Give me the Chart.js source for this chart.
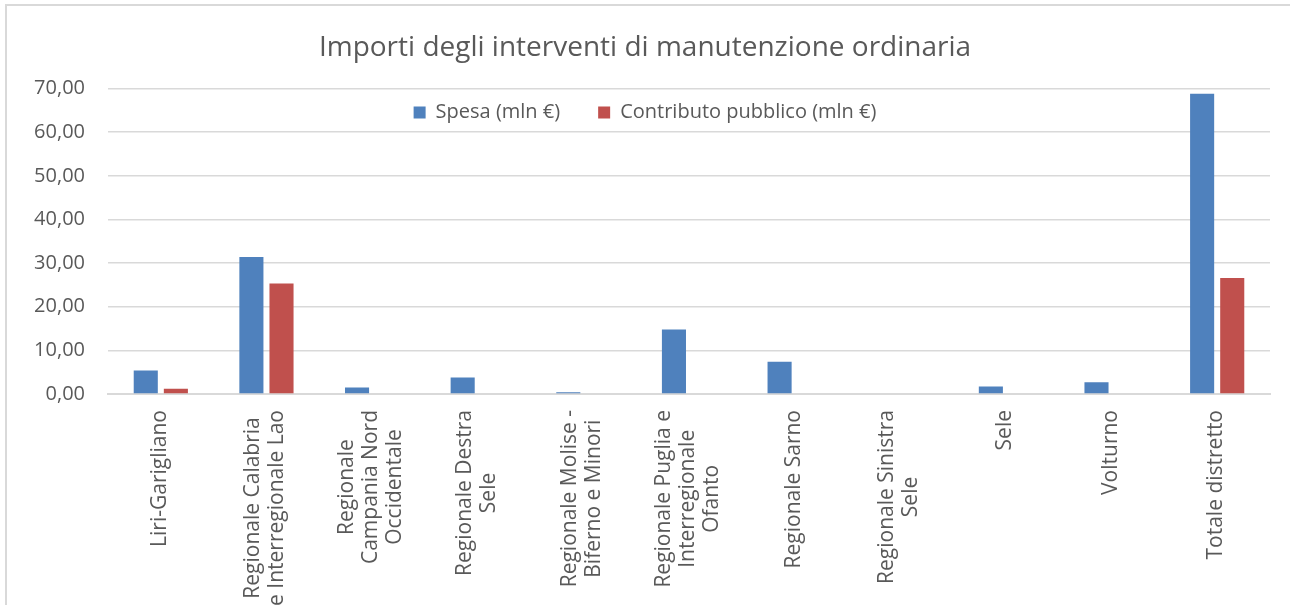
<!DOCTYPE html>
<html>
<head>
<meta charset="utf-8">
<script src="https://cdn.jsdelivr.net/npm/chart.js@4.4.0/dist/chart.umd.min.js"></script>
<style>
  html, body { margin: 0; padding: 0; background: #fff; overflow: hidden; }
  #frame { position: absolute; left: 5px; top: 4px; width: 1400px; height: 700px; border: 2px solid #d9d9d9; }
  #wrap { position: absolute; left: 0; top: 0; width: 1290px; height: 605px; }
</style>
</head>
<body>
<div id="frame"></div>
<div id="wrap"><canvas id="myChart"></canvas></div>
<script>
const categories = [
  'Liri-Garigliano',
  ['Regionale Calabria', 'e Interregionale Lao'],
  ['Regionale', 'Campania Nord', 'Occidentale'],
  ['Regionale Destra', 'Sele'],
  ['Regionale Molise -', 'Biferno e Minori'],
  ['Regionale Puglia e', 'Interregionale', 'Ofanto'],
  'Regionale Sarno',
  ['Regionale Sinistra', 'Sele'],
  'Sele',
  'Volturno',
  'Totale distretto'
];
const spesa = [5.4, 31.4, 1.5, 3.8, 0.4, 14.8, 7.4, 0.2, 1.7, 2.7, 68.8];
const contributo = [1.2, 25.3, 0, 0, 0, 0, 0, 0, 0, 0, 26.6];
const yTicks = [0, 10, 20, 30, 40, 50, 60, 70];

const grey = '#595959';
const gridGrey = '#d9d9d9';

// Excel-style category labels: rotated, lines centred on each other
const xLabels = {
  id: 'xLabels',
  afterLayout(chart) {
    // legend sits inside the plot area, so give its clip box room to draw there
    const lg = chart.legend;
    lg.height = 80;
    lg.bottom = lg.top + 80;
  },
  afterDraw(chart) {
    const ctx = chart.ctx;
    const x = chart.scales.x;
    ctx.save();
    ctx.font = '21px "Open Sans"';
    ctx.fillStyle = grey;
    ctx.textAlign = 'center';
    ctx.textBaseline = 'middle';
    categories.forEach((lab, i) => {
      const lines = Array.isArray(lab) ? lab : [lab];
      const maxW = Math.max(...lines.map(l => ctx.measureText(l).width));
      const px = x.getPixelForValue(i);
      const cy = x.top + 16 + maxW / 2;
      lines.forEach((l, j) => {
        ctx.save();
        ctx.translate(px - 1 + (j - (lines.length - 1) / 2) * 24, cy);
        ctx.rotate(-Math.PI / 2);
        ctx.fillText(l, 0, 0);
        ctx.restore();
      });
    });
    ctx.restore();
  }
};

const ctx = document.getElementById('myChart').getContext('2d');
new Chart(ctx, {
  type: 'bar',
  data: {
    labels: categories,
    datasets: [
      { label: 'Spesa (mln €)', data: spesa, backgroundColor: '#4f81bd' },
      { label: 'Contributo pubblico (mln €)', data: contributo, backgroundColor: '#c0504d' }
    ]
  },
  options: {
    responsive: true,
    maintainAspectRatio: false,
    animation: false,
    categoryPercentage: 0.57,
    barPercentage: 0.8,
    layout: { padding: { left: 20, right: 20, top: 0, bottom: 0 } },
    plugins: {
      title: {
        display: true,
        text: 'Importi degli interventi di manutenzione ordinaria',
        color: grey,
        font: { family: 'Open Sans', size: 28, weight: 'normal' },
        padding: { top: 31, bottom: 0 }
      },
      legend: {
        position: 'top',
        maxHeight: 24,
        labels: {
          color: grey,
          font: { family: 'Open Sans', size: 20 },
          boxWidth: 12,
          boxHeight: 12,
          padding: 38
        }
      },
      tooltip: { enabled: false }
    },
    scales: {
      x: {
        grid: { display: false },
        border: { color: gridGrey, width: 2 },
        ticks: { display: false },
        afterFit(scale) { scale.height = 211; }
      },
      y: {
        min: 0,
        max: 70,
        afterBuildTicks(scale) { scale.ticks = yTicks.map(v => ({ value: v })); },
        grid: { color: gridGrey, lineWidth: 1.5, drawTicks: false },
        border: { display: false },
        ticks: {
          color: grey,
          padding: 23,
          font: { family: 'Open Sans', size: 20 },
          callback: v => v.toFixed(2).replace('.', ',')
        },
        afterFit(scale) { scale.width = 88; }
      }
    }
  },
  plugins: [xLabels]
});
</script>
</body>
</html>
